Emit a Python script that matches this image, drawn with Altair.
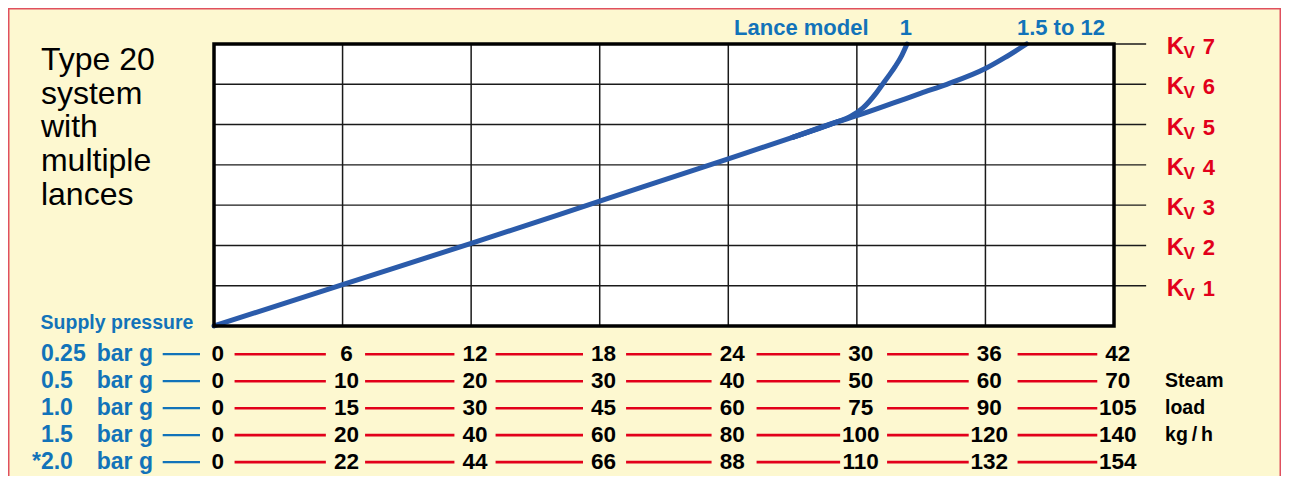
import altair as alt
import pandas as pd

# ---------------- data ----------------
title_lines = ["Type 20", "system", "with", "multiple", "lances"]
lance_header = "Lance model"
lance_models = ["1", "1.5 to 12"]
kv_levels = [1, 2, 3, 4, 5, 6, 7]
grid_columns = [1, 2, 3, 4, 5, 6]
n_columns = 7

# curve (x = grid column, y = Kv)
shared_x = [0.0, 1.0, 2.0, 3.0, 4.0, 4.5, 4.85]
shared_y = [0.0, 1.03, 2.05, 3.1, 4.15, 4.68, 5.07]
model1_x = [4.5, 4.85, 4.95, 5.05, 5.15, 5.2, 5.25, 5.3, 5.35, 5.39]
model1_y = [4.68, 5.07, 5.2, 5.42, 5.78, 6.0, 6.22, 6.45, 6.72, 7.0]
model15_x = [4.5, 4.85, 5.0, 5.28, 5.5, 5.7, 6.0, 6.15, 6.32]
model15_y = [4.68, 5.07, 5.22, 5.53, 5.78, 6.0, 6.39, 6.66, 7.0]

supply_label = "Supply pressure"
pressure_values = ["0.25", "0.5", "1.0", "1.5", "2.0"]
pressure_marks = ["", "", "", "", "*"]
pressure_unit = "bar g"
load_0_25 = [0, 6, 12, 18, 24, 30, 36, 42]
load_0_5 = [0, 10, 20, 30, 40, 50, 60, 70]
load_1_0 = [0, 15, 30, 45, 60, 75, 90, 105]
load_1_5 = [0, 20, 40, 60, 80, 100, 120, 140]
load_2_0 = [0, 22, 44, 66, 88, 110, 132, 154]
load_rows = [load_0_25, load_0_5, load_1_0, load_1_5, load_2_0]
load_unit_lines = ["Steam", "load", "kg\u2009/\u2009h"]

# ---------------- layout / style ----------------
W, H = 1273, 468
PX_COL = 900 / 7
PX_KV = 282 / 7
BOX_LEFT = 206
BOX_BOTTOM = 318
x_dom = [-BOX_LEFT / PX_COL, (W - BOX_LEFT) / PX_COL]
y_dom = [-(H - BOX_BOTTOM) / PX_KV, BOX_BOTTOM / PX_KV]

FONT = "Liberation Sans"
BG = "#FDF8D0"
RED = "#E2001A"
BLUE_TXT = "#1273B9"
CURVE = "#2B5BAA"
FRAME = "#E0505E"

ROW0, ROW_STEP = -0.70, 0.67
KV_EXT = 7.25

xs = alt.Scale(domain=x_dom, nice=False, zero=False)
ys = alt.Scale(domain=y_dom, nice=False, zero=False)


def X(f="x"):
    return alt.X(f"{f}:Q", scale=xs, axis=None)


def Y(f="y"):
    return alt.Y(f"{f}:Q", scale=ys, axis=None)


def texts(df, font=FONT, **kw):
    return alt.Chart(df).mark_text(font=font, **kw).encode(x=X(), y=Y(), text="t:N")


def rules(df, **kw):
    return alt.Chart(df).mark_rule(**kw).encode(x=X("x"), x2="x2:Q", y=Y("y"), y2="y2:Q")


def rect(df, **kw):
    return alt.Chart(df).mark_rect(**kw).encode(x=X("x"), x2="x2:Q", y=Y("y"), y2="y2:Q")


# outer frame: left, top and right edges on the canvas; bottom edge falls off the page
frame = rect(pd.DataFrame({"x": [x_dom[0]], "x2": [x_dom[1]], "y": [y_dom[0] - 1], "y2": [y_dom[1]]}),
             fill=BG, fillOpacity=0, stroke=FRAME, strokeWidth=3)

box_df = pd.DataFrame({"x": [0], "x2": [n_columns], "y": [0], "y2": [kv_levels[-1]]})
box_fill = rect(box_df, fill="white")
box_border = rect(box_df, fill="white", fillOpacity=0, stroke="black", strokeWidth=3.5)

vgrid = rules(pd.DataFrame({"x": grid_columns, "x2": grid_columns, "y": [0] * 6, "y2": [7] * 6}),
              color="#1a1a1a", strokeWidth=1.5)
hgrid = rules(pd.DataFrame({"x": [0] * 7, "x2": [KV_EXT] * 7, "y": kv_levels, "y2": kv_levels}),
              color="#1a1a1a", strokeWidth=1.4)

curve_df = pd.concat([
    pd.DataFrame({"x": shared_x, "y": shared_y, "s": "shared"}),
    pd.DataFrame({"x": model1_x, "y": model1_y, "s": "model 1"}),
    pd.DataFrame({"x": model15_x, "y": model15_y, "s": "model 1.5 to 12"}),
])
curves = alt.Chart(curve_df).mark_line(interpolate="monotone", strokeWidth=5, color=CURVE,
                                       strokeCap="round").encode(
    x=X(), y=Y(), detail="s:N", order="x:Q")

title = texts(pd.DataFrame({"x": [-1.346], "y": [6.355], "t": ["\n".join(title_lines)]}),
              lineBreak="\n", lineHeight=33.7, fontSize=32, align="left", baseline="alphabetic",
              color="black")

lance_head = texts(pd.DataFrame({"x": [4.045], "y": [7.22], "t": [lance_header]}),
                   fontSize=22, fontWeight="bold", color=BLUE_TXT, align="left", baseline="alphabetic")
lance_1 = texts(pd.DataFrame({"x": [5.382], "y": [7.22], "t": [lance_models[0]]}),
                fontSize=22, fontWeight="bold", color=BLUE_TXT, align="center", baseline="alphabetic")
lance_2 = texts(pd.DataFrame({"x": [6.245], "y": [7.22], "t": [lance_models[1]]}),
                fontSize=22, fontWeight="bold", color=BLUE_TXT, align="left", baseline="alphabetic")

kv_K = texts(pd.DataFrame({"x": [7.41] * 7, "y": kv_levels, "t": ["K"] * 7}),
             fontSize=24, fontWeight="bold", color=RED, align="left", baseline="alphabetic", dy=10)
kv_V = texts(pd.DataFrame({"x": [7.54] * 7, "y": kv_levels, "t": ["V"] * 7}),
             fontSize=17, fontWeight="bold", color=RED, align="left", baseline="alphabetic", dy=14)
kv_N = texts(pd.DataFrame({"x": [7.69] * 7, "y": kv_levels, "t": [str(k) for k in kv_levels]}),
             fontSize=22, fontWeight="bold", color=RED, align="left", baseline="alphabetic", dy=10)

supply = texts(pd.DataFrame({"x": [-1.349], "y": [-0.08], "t": [supply_label]}),
               fontSize=19.5, fontWeight="bold", color=BLUE_TXT, align="left", baseline="alphabetic")

row_y = [ROW0 - i * ROW_STEP for i in range(len(pressure_values))]
p_vals = texts(pd.DataFrame({"x": [-1.346] * 5, "y": row_y, "t": pressure_values}),
               fontSize=23, fontWeight="bold", color=BLUE_TXT, align="left", baseline="middle")
p_marks = texts(pd.DataFrame({"x": [-1.346] * 5, "y": row_y, "t": pressure_marks}),
                fontSize=23, fontWeight="bold", color=BLUE_TXT, align="right", baseline="middle")
p_units = texts(pd.DataFrame({"x": [-0.912] * 5, "y": row_y, "t": [pressure_unit] * 5}),
                fontSize=23, fontWeight="bold", color=BLUE_TXT, align="left", baseline="middle")
blue_dash = rules(pd.DataFrame({"x": [-0.399] * 5, "x2": [-0.109] * 5, "y": row_y, "y2": row_y}),
                  color=BLUE_TXT, strokeWidth=2.2)

num_rows = []
seg_rows = []
for i, loads in enumerate(load_rows):
    for j, v in enumerate(loads):
        num_rows.append({"x": j + 0.03, "y": row_y[i], "t": str(v)})
        if j < len(loads) - 1:
            seg_rows.append({"x": j + 0.16 + 0.015 * j, "x2": j + 0.87, "y": row_y[i], "y2": row_y[i]})
numbers = texts(pd.DataFrame(num_rows), fontSize=22.5, fontWeight="bold", color="black",
                align="center", baseline="middle")
red_segs = rules(pd.DataFrame(seg_rows), color=RED, strokeWidth=2.6)

unit_txt = texts(pd.DataFrame({"x": [7.397] * 3, "y": row_y[1:4], "t": load_unit_lines}),
                 fontSize=19.5, fontWeight="bold", color="black", align="left", baseline="middle")

chart = alt.layer(
    frame, box_fill, vgrid, hgrid, curves, box_border, title, lance_head, lance_1, lance_2,
    kv_K, kv_V, kv_N, supply, p_vals, p_marks, p_units, blue_dash, red_segs, numbers, unit_txt,
).properties(
    width=W, height=H, padding=0, background=BG,
    autosize=alt.AutoSizeParams(type="none"),
).configure_view(strokeWidth=0)

chart.save("out.html", embed_options={"renderer": "svg", "actions": False})
